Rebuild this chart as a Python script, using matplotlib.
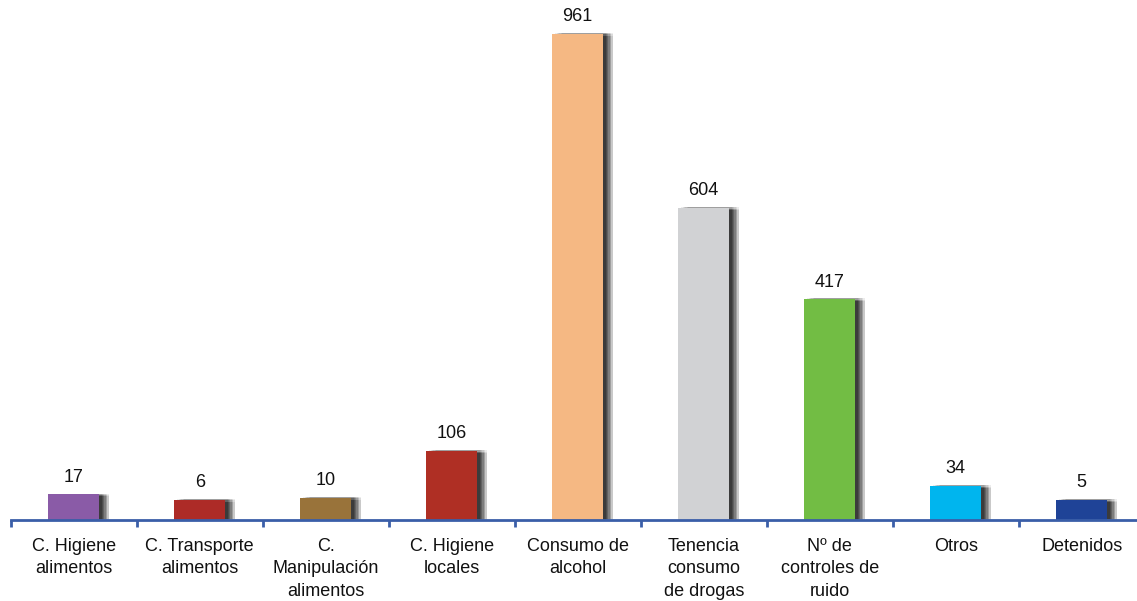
import matplotlib
matplotlib.use("Agg")
import matplotlib.pyplot as plt
import matplotlib.patheffects as pe
import numpy as np

categories = ["C. Higiene\nalimentos", "C. Transporte\nalimentos", "C.\nManipulación\nalimentos",
              "C. Higiene\nlocales", "Consumo de\nalcohol", "Tenencia\nconsumo\nde drogas",
              "Nº de\ncontroles de\nruido", "Otros", "Detenidos"]
values = [17, 6, 10, 106, 961, 604, 417, 34, 5]
colors = ["#8A5BA7", "#AD2B27", "#99733A", "#AF2F24", "#F5B883", "#D1D2D4", "#72BD44", "#00B5EE", "#1F4397"]

plt.rcParams['font.family'] = ['Liberation Sans', 'DejaVu Sans']

W, H = 1137, 601
fig = plt.figure(figsize=(W / 100, H / 100), dpi=100)
left_px, axis_px = 10.7, 519.5
ax = fig.add_axes([left_px / W, (H - axis_px) / H, 9 * 126 / W, axis_px / H])

ymin, ymax = -35, 1030
x = np.arange(len(values))

shadow = []
for dx in [2.0, 3.0, 4.0, 5.0, 6.0, 7.0]:
    for dy in [0.4, -0.6, -1.6]:
        shadow.append(pe.SimplePatchShadow(offset=(dx, dy), shadow_rgbFace='black', alpha=0.075))

for xi, v, c in zip(x, values, colors):
    b = ax.bar(xi, v - ymin, bottom=ymin, width=0.40, color=c, zorder=2)
    for p in b.patches:
        p.set_path_effects(shadow + [pe.Normal()])
    ax.annotate(str(v), (xi, v), xytext=(0, 9), textcoords='offset points',
                ha='center', va='baseline', fontsize=13, color='#111111')

ax.set_xlim(-0.5, len(values) - 0.5)
ax.set_ylim(ymin, ymax)
for s in ['top', 'left', 'right']:
    ax.spines[s].set_visible(False)
ax.spines['bottom'].set_color('#3A5EA8')
ax.spines['bottom'].set_linewidth(2)
ax.spines['bottom'].set_zorder(3)
ax.set_yticks([])
ax.set_xticks(x)
ax.set_xticklabels(categories, fontsize=13, linespacing=1.45, color='#111111')
ax.tick_params(axis='x', which='major', length=0, pad=13)
ax.set_xticks(np.arange(len(values) + 1) - 0.5, minor=True)
ax.tick_params(axis='x', which='minor', length=5, width=2, color='#3A5EA8', direction='out')
ax.patch.set_alpha(0)

fig.savefig("out.png", dpi=100)
